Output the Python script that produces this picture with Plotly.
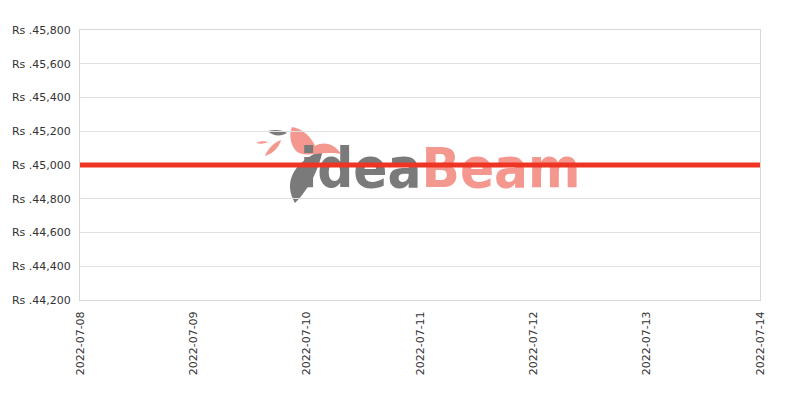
import base64

import plotly.graph_objects as go

# Price history (flat for the week)
dates = ['2022-07-08', '2022-07-09', '2022-07-10', '2022-07-11',
         '2022-07-12', '2022-07-13', '2022-07-14']
prices = [45000, 45000, 45000, 45000, 45000, 45000, 45000]

y_ticks = [44200, 44400, 44600, 44800, 45000, 45200, 45400, 45600, 45800]
y_labels = ['Rs .{:,}'.format(v) for v in y_ticks]

fig = go.Figure()

fig.add_trace(go.Scatter(
    x=dates, y=prices,
    mode='lines',
    line=dict(color='#EE3524', width=5),
    hoverinfo='x+y',
))

# watermark logo as an svg image behind the line
# (pixel coords of the page, plot area is 80..760 x 30..300)
svg = '''<svg xmlns="http://www.w3.org/2000/svg" width="680" height="270"
 viewBox="0 0 680 270" preserveAspectRatio="none">
<g transform="translate(-80,-30)">
<path d="M 295 203 C 284 185 290 163 323 150 C 318 172 308 190 295 203 Z" fill="#7a7a7a"/>
<path d="M 292 127 C 301 128 311 136 315 146 C 326 140 336 146 341 154
 C 321 150 306 159 296 151 C 290 144 289 134 292 127 Z" fill="#F4978E"/>
<path d="M 268 131 C 275 129 283 130 287 133 C 281 137 272 136 268 131 Z" fill="#7a7a7a"/>
<path d="M 265 156 C 268 148 275 142 281 140 C 279 148 272 154 265 156 Z" fill="#F4978E"/>
<path d="M 256 143 C 260 141 265 141 268 142 C 264 144 260 144 256 143 Z" fill="#F4978E"/>
<text x="300" y="187" font-family="DejaVu Sans Condensed" font-weight="bold" font-size="56"><tspan fill="#7a7a7a">idea</tspan><tspan fill="#F4978E">Beam</tspan></text>
</g>
</svg>'''
logo_src = 'data:image/svg+xml;base64,' + base64.b64encode(svg.encode()).decode()

fig.add_layout_image(
    source=logo_src, xref='paper', yref='paper',
    x=0, y=1, sizex=1, sizey=1,
    xanchor='left', yanchor='top', sizing='stretch', layer='below',
)

fig.update_layout(
    width=800, height=400,
    margin=dict(l=72, r=48, t=22, b=108),
    paper_bgcolor='white', plot_bgcolor='white',
    showlegend=False,
    font=dict(family='DejaVu Sans', size=11, color='#333333'),
    xaxis=dict(
        type='date',
        range=[dates[0], dates[-1]],
        tickvals=dates, ticktext=dates,
        tickangle=-90,
        ticklabelstandoff=6,
        automargin=False,
        showgrid=False,
        showline=True, linecolor='#d9d9d9', mirror=True,
        ticks='', zeroline=False,
    ),
    yaxis=dict(
        range=[44200, 45800],
        tickvals=y_ticks, ticktext=y_labels,
        ticklabelstandoff=6,
        automargin=False,
        showgrid=True, gridcolor='#e0e0e0',
        showline=True, linecolor='#d9d9d9', mirror=True,
        ticks='', zeroline=False,
    ),
)

fig.write_html("out.html")
